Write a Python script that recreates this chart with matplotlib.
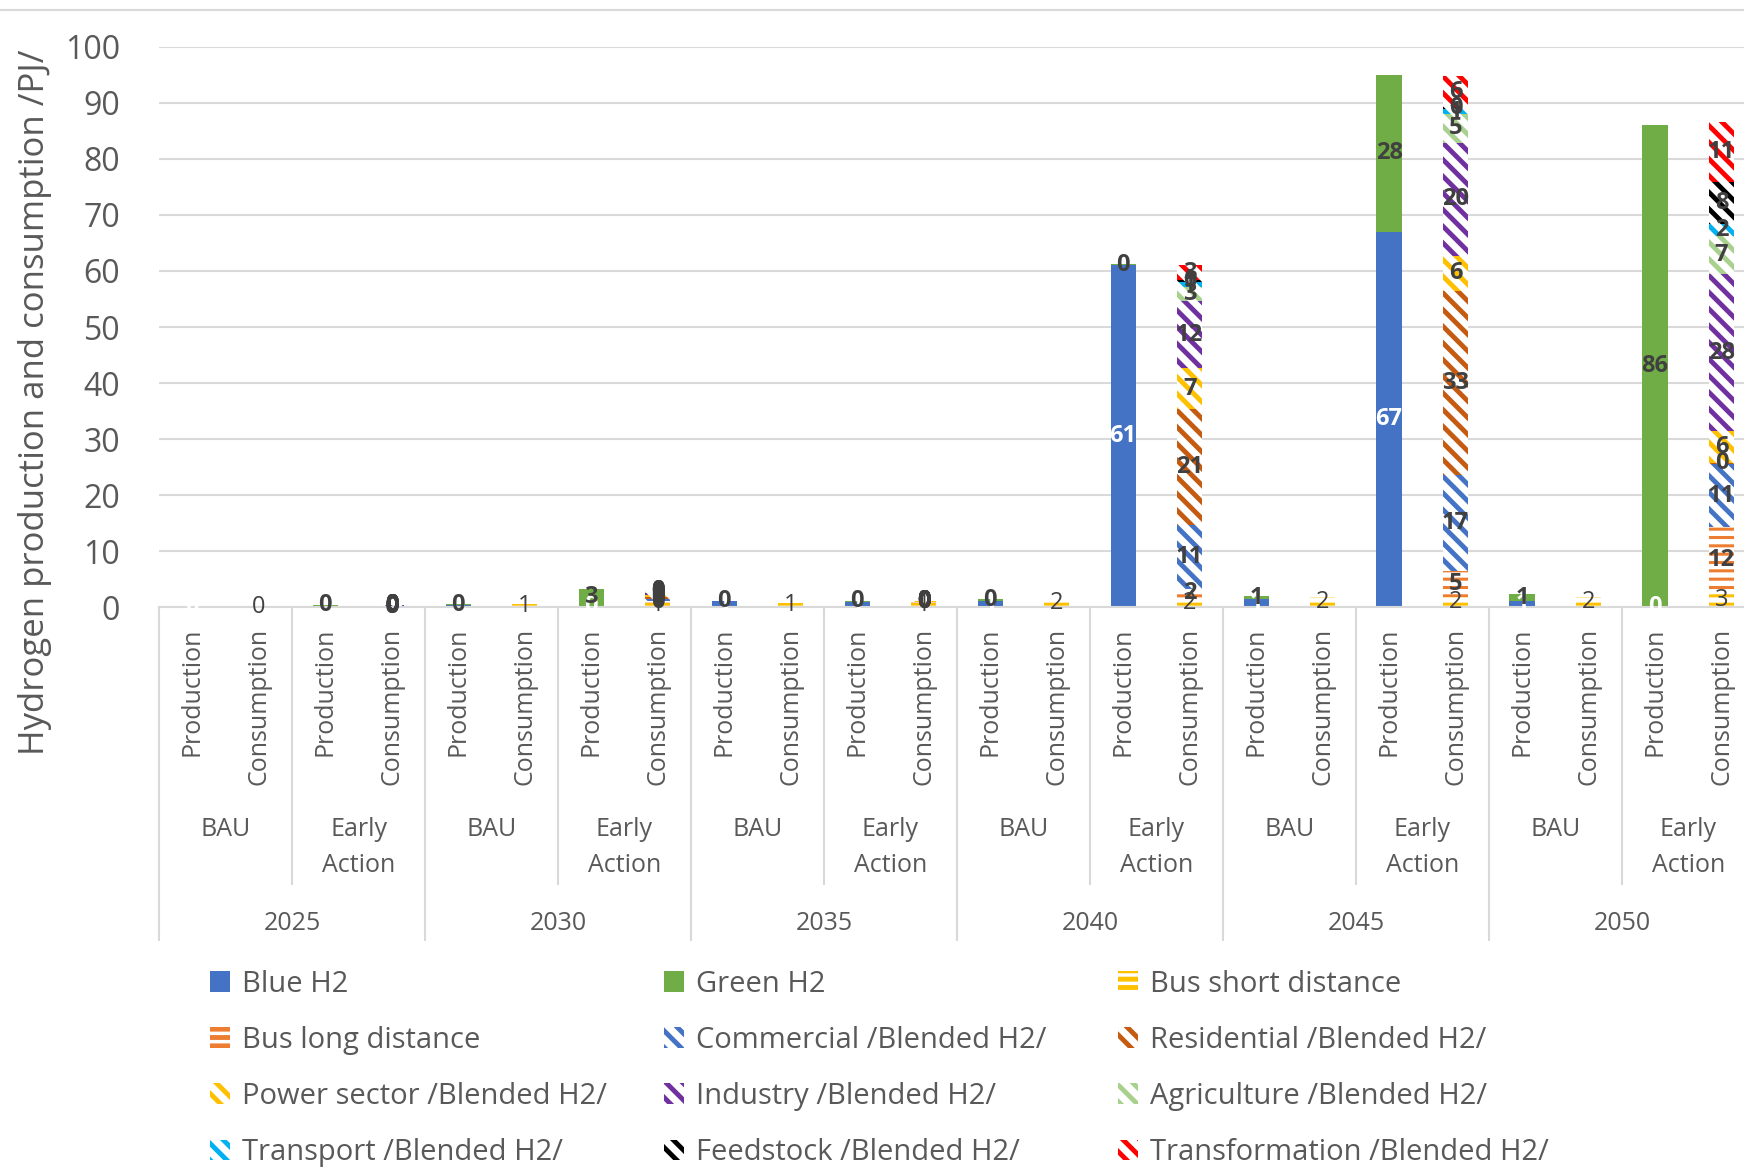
import numpy as np
import matplotlib
matplotlib.use("Agg")
import matplotlib.pyplot as plt
from matplotlib.lines import Line2D

plt.rcParams['font.family'] = ['Open Sans', 'DejaVu Sans']
plt.rcParams['hatch.linewidth'] = 3.5

# x axis levels
years = ["2025", "2030", "2035", "2040", "2045", "2050"]
scenarios = ["BAU", "Early\nAction"]
bar_types = ["Production", "Consumption"]

# production, order: 2025 BAU, 2025 EA, 2030 BAU, 2030 EA, ...
blue_h2 = [0.3, 0.3, 0.45, 0.3, 1.1, 1.0, 1.1, 61, 1.4, 67, 1.1, 0]
green_h2 = [None, 0.05, 0.05, 2.9, 0.05, 0.2, 0.3, 0.3, 0.6, 28, 1.2, 86]

# consumption, same order
bus_short = [0.1, 0.1, 0.6, 0.8, 0.8, 0.8, 1.6, 1.6, 1.8, 1.8, 1.8, 2.7]
bus_long = [None, 0.05, None, 0.3, None, 0.1, None, 1.7, None, 4.6, None, 11.6]
commercial = [None, 0.05, None, 0.3, None, 0.05, None, 11.3, None, 17.2, None, 11.2]
residential = [None, 0.05, None, 0.4, None, 0.05, None, 20.8, None, 32.8, None, 0.3]
power_sector = [None, 0.05, None, 0.4, None, 0.05, None, 7.2, None, 6.3, None, 5.6]
industry = [None, 0.05, None, 0.4, None, 0.05, None, 12.0, None, 20.2, None, 28.0]
agriculture = [None, 0.02, None, 0.1, None, 0.02, None, 2.6, None, 5.1, None, 6.9]
transport = [None, 0.02, None, 0.1, None, 0.02, None, 0.8, None, 0.9, None, 2.0]
feedstock = [None, 0.01, None, 0.05, None, 0.01, None, 0.4, None, 0.3, None, 7.6]
transformation = [None, 0.02, None, 0.1, None, 0.02, None, 2.6, None, 5.6, None, 10.7]

# (name, values, colour, hatch, label colour, label weight)
production_series = [
    ("Blue H2", blue_h2, "#4472C4", None, "white", "bold"),
    ("Green H2", green_h2, "#70AD47", None, "#404040", "bold"),
]
consumption_series = [
    ("Bus short distance", bus_short, "#FFC000", "--", "#404040", "normal"),
    ("Bus long distance", bus_long, "#ED7D31", "--", "#404040", "bold"),
    ("Commercial /Blended H2/", commercial, "#4472C4", "\\\\", "#404040", "bold"),
    ("Residential /Blended H2/", residential, "#C55A11", "\\\\", "#404040", "bold"),
    ("Power sector /Blended H2/", power_sector, "#FFC000", "\\\\", "#404040", "bold"),
    ("Industry /Blended H2/", industry, "#7030A0", "\\\\", "#404040", "bold"),
    ("Agriculture /Blended H2/", agriculture, "#A9D18E", "\\\\", "#404040", "bold"),
    ("Transport /Blended H2/", transport, "#00B0F0", "\\\\", "#404040", "bold"),
    ("Feedstock /Blended H2/", feedstock, "#000000", "\\\\", "#404040", "bold"),
    ("Transformation /Blended H2/", transformation, "#FF0000", "\\\\", "#404040", "bold"),
]

grey = "#595959"
light = "#D9D9D9"
bar_w = 0.38

fig = plt.figure(figsize=(17.44, 11.7), dpi=100)
ax = fig.add_axes([0.0912, 0.481, 0.915, 0.479])

n = len(years) * len(scenarios)
prod_x = np.arange(n) * 2
cons_x = np.arange(n) * 2 + 1

handles = {}


def draw_stack(xs, series):
    bottom = np.zeros(len(xs))
    for name, vals, color, hatch, lab_color, weight in series:
        v = np.array([np.nan if x is None else x for x in vals], dtype=float)
        h = np.nan_to_num(v)
        if hatch:
            bars = ax.bar(xs, h, bar_w, bottom=bottom, facecolor="white",
                          edgecolor=color, hatch=hatch, linewidth=0, label=name)
            if hatch == "--":
                for p in bars:
                    if hasattr(p, "set_hatch_linewidth"):
                        p.set_hatch_linewidth(2.2)
        else:
            bars = ax.bar(xs, h, bar_w, bottom=bottom, color=color,
                          linewidth=0, label=name)
        handles[name] = bars
        for x, b, val in zip(xs, bottom, v):
            if not np.isnan(val):
                ax.text(x, b + val / 2, f"{val:.0f}", ha="center", va="center",
                        fontsize=17, color=lab_color, fontweight=weight, zorder=5)
        bottom = bottom + h


draw_stack(prod_x, production_series)
draw_stack(cons_x, consumption_series)

ax.set_xlim(-0.5, 2 * n - 0.5)
ax.set_ylim(0, 100)
ax.set_yticks(np.arange(0, 101, 10))
ax.tick_params(axis="y", length=0, pad=28, labelsize=23, labelcolor=grey)
ax.set_xticks(np.arange(2 * n))
ax.set_xticklabels(bar_types * n, rotation=90, fontsize=18, color=grey)
ax.tick_params(axis="x", length=0, pad=15)
ax.grid(axis="y", color=light, linewidth=1.5)
ax.set_axisbelow(True)
for s in ["top", "right", "left"]:
    ax.spines[s].set_visible(False)
ax.spines["bottom"].set_color(light)
ax.spines["bottom"].set_linewidth(1.5)

# scenario and year levels
trans = ax.get_xaxis_transform()
for yi, yr in enumerate(years):
    for si, sc in enumerate(scenarios):
        xc = yi * 4 + si * 2 + 0.5
        ax.text(xc, -0.375, sc, transform=trans, ha="center", va="top",
                fontsize=18, color=grey, linespacing=1.55)
    ax.text(yi * 4 + 1.5, -0.565, yr, transform=trans, ha="center",
            va="center", fontsize=18, color=grey)
ax.vlines(np.arange(n // 2) * 4 + 1.5, -0.495, 0, transform=trans,
          color=light, linewidth=1.5, clip_on=False)
ax.vlines(np.arange(n // 2 + 1) * 4 - 0.5, -0.595, 0, transform=trans,
          color=light, linewidth=1.5, clip_on=False)

fig.text(35 / 1744, 1 - 402 / 1170, "Hydrogen production and consumption /PJ/",
         rotation=90, ha="center", va="center", fontsize=25, color=grey)

fig.add_artist(Line2D([0, 1], [1 - 10 / 1170] * 2, transform=fig.transFigure,
                      color=light, linewidth=1.5))

# legend, three columns filled row by row
names = [s[0] for s in production_series + consumption_series]
col_x = [195, 649, 1103]
for c in range(3):
    col_names = names[c::3]
    leg = fig.legend([handles[k] for k in col_names], col_names, loc="upper left",
                     bbox_to_anchor=(col_x[c] / 1744, 1 - 955 / 1170),
                     frameon=False, fontsize=21, labelcolor=grey, borderpad=0,
                     handlelength=0.7, handleheight=0.7, handletextpad=0.4,
                     labelspacing=0.93)

fig.savefig("out.png", dpi=100)
